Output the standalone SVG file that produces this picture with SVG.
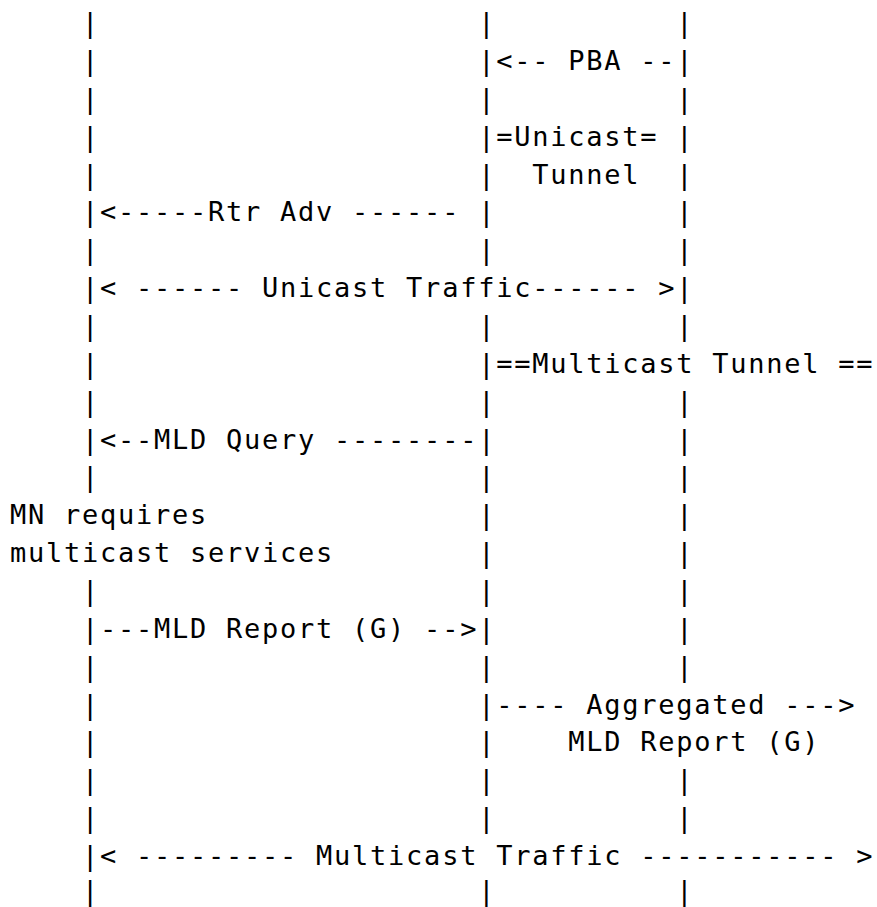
<svg xmlns="http://www.w3.org/2000/svg" width="877" height="907" viewBox="0 0 877 907" xml:space="preserve">
<style>
.t { font-family: "DejaVu Sans Mono", "Liberation Mono", monospace; font-size: 27px; letter-spacing: 1.75px; white-space: pre; fill: #000; }
</style>
<rect width="877" height="907" fill="#fff"/>
<g id="lifelines-top">
<text class="t" x="10" y="32.1">    |                     |          |</text>
<text class="t" x="10" y="107.9">    |                     |          |</text>
</g>
<g id="connectors">
<g id="msg-pba"><text class="t" x="10" y="70">    |                     |&lt;-- PBA --|</text></g>
<g id="msg-unicast-tunnel">
<text class="t" x="10" y="145.7">    |                     |=Unicast= |</text>
<text class="t" x="10" y="183.6">    |                     |  Tunnel  |</text>
</g>
<g id="msg-rtr-adv"><text class="t" x="10" y="221.4">    |&lt;-----Rtr Adv ------ |          |</text></g>
<text class="t" x="10" y="259.3">    |                     |          |</text>
<g id="msg-unicast-traffic"><text class="t" x="10" y="297.2">    |&lt; ------ Unicast Traffic------ &gt;|</text></g>
<text class="t" x="10" y="335">    |                     |          |</text>
<g id="msg-multicast-tunnel"><text class="t" x="10" y="372.9">    |                     |==Multicast Tunnel ==</text></g>
<text class="t" x="10" y="410.7">    |                     |          |</text>
<g id="msg-mld-query"><text class="t" x="10" y="448.6">    |&lt;--MLD Query --------|          |</text></g>
<text class="t" x="10" y="486.4">    |                     |          |</text>
<g id="note-mn">
<text class="t" x="10" y="524.3">MN requires               |          |</text>
<text class="t" x="10" y="562.2">multicast services        |          |</text>
</g>
<text class="t" x="10" y="600">    |                     |          |</text>
<g id="msg-mld-report"><text class="t" x="10" y="637.9">    |---MLD Report (G) --&gt;|          |</text></g>
<text class="t" x="10" y="675.7">    |                     |          |</text>
<g id="msg-aggregated">
<text class="t" x="10" y="713.6">    |                     |---- Aggregated ---&gt;</text>
<text class="t" x="10" y="751.4">    |                     |    MLD Report (G)</text>
</g>
<text class="t" x="10" y="789.3">    |                     |          |</text>
<text class="t" x="10" y="827.2">    |                     |          |</text>
<g id="msg-multicast-traffic"><text class="t" x="10" y="865">    |&lt; --------- Multicast Traffic ----------- &gt;</text></g>
<text class="t" x="10" y="900">    |                     |          |</text>
</g>
</svg>
